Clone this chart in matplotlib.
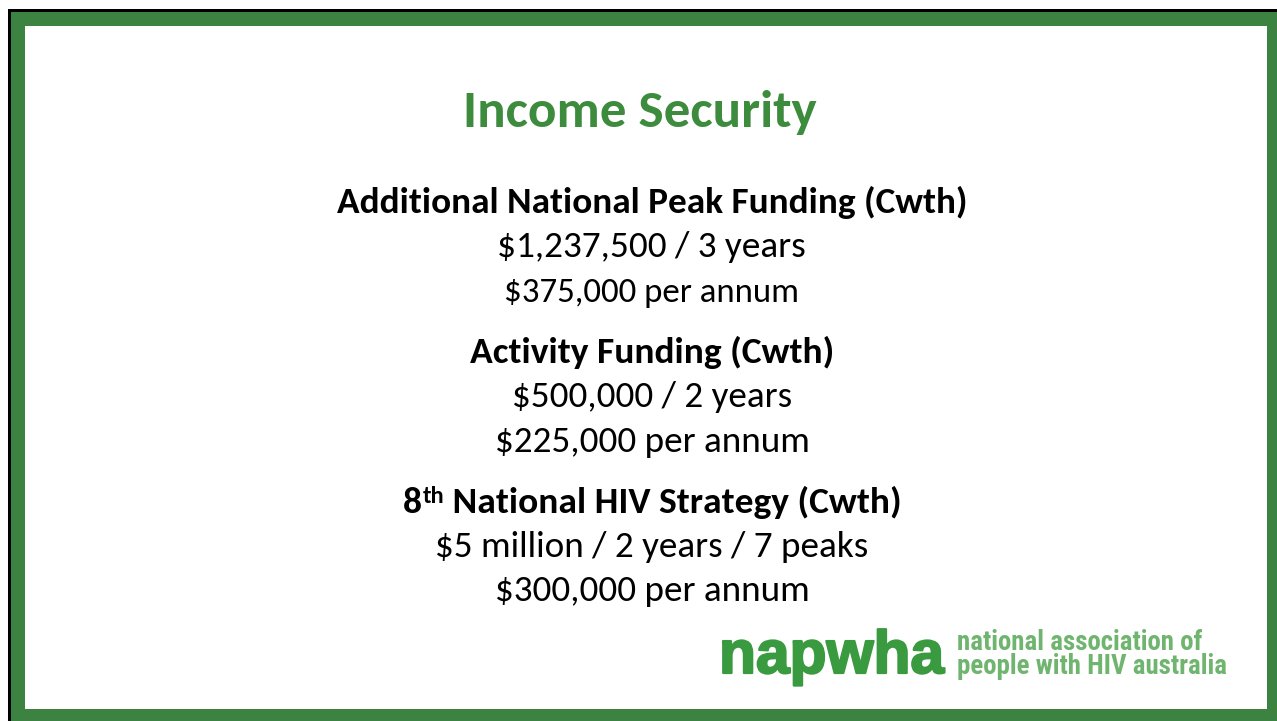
import matplotlib
matplotlib.use("Agg")
import matplotlib.pyplot as plt
import matplotlib.patheffects as pe
from matplotlib.patches import Rectangle

W, H = 1277, 721

title = "Income Security"
headings = ["Additional National Peak Funding (Cwth)",
            "Activity Funding (Cwth)",
            "National HIV Strategy (Cwth)"]
heading_prefix = ["", "", "8"]
heading_sup = ["", "", "th"]
details = [["$1,237,500 / 3 years", "$375,000 per annum"],
           ["$500,000 / 2 years", "$225,000 per annum"],
           ["$5 million / 2 years / 7 peaks", "$300,000 per annum"]]
logo_word = "napwha"
logo_lines = ["national association of", "people with HIV australia"]

BORDER = "#3C8240"
TITLE_C = "#3D8B3D"
LOGO_C = "#3A9A3F"
LOGO_C2 = "#6FB56F"

FAM = ["Carlito", "Lato", "DejaVu Sans"]
WORD_FAM = ["Liberation Sans", "DejaVu Sans"]
SUB_FAM = ["Roboto Condensed", "Liberation Sans", "DejaVu Sans"]

fig = plt.figure(figsize=(W / 100, H / 100), dpi=100)
ax = fig.add_axes([0, 0, 1, 1])
ax.set_xlim(0, W)
ax.set_ylim(H, 0)
ax.axis("off")

# frame
ax.add_patch(Rectangle((8, 9), W - 8, H - 9, facecolor="black", edgecolor="none"))
ax.add_patch(Rectangle((11, 12), W - 11, H - 12, facecolor=BORDER, edgecolor="none"))
ax.add_patch(Rectangle((25, 26), 1267 - 25, 709 - 26, facecolor="white", edgecolor="none"))

fig.canvas.draw()
renderer = fig.canvas.get_renderer()


def width_px(t):
    return t.get_window_extent(renderer).width


def fit_text(s, x, yb, target_w, family, weight="normal", color="black", ha="center"):
    t = ax.text(x, yb, s, fontsize=20, family=family, fontweight=weight,
                color=color, ha=ha, va="baseline")
    t.set_fontsize(20 * target_w / width_px(t))
    return t


fit_text(title, 640, 127, 354, FAM, "bold", TITLE_C)

head_y = [213, 363, 513]
head_w = [630, 364, 0]
detail_y = [[257, 302], [407, 452], [557, 601]]
detail_w = [[309, 296], [280, 315], [434, 315]]
detail_cx = [651, 652, 652]

fs_head = None
for i in range(3):
    if heading_prefix[i] == "":
        t = fit_text(headings[i], 652, head_y[i], head_w[i], FAM, "bold")
        fs_head = t.get_fontsize()
    for j in range(2):
        fit_text(details[i][j], detail_cx[i], detail_y[i][j], detail_w[i][j], FAM)

# heading with superscript, centered around x=652
i = 2
t1 = ax.text(0, head_y[i], heading_prefix[i], fontsize=fs_head, family=FAM,
             fontweight="bold", ha="left", va="baseline")
t2 = ax.text(0, head_y[i] - 10, heading_sup[i], fontsize=fs_head * 0.65, family=FAM,
             fontweight="bold", ha="left", va="baseline")
t3 = ax.text(0, head_y[i], " " + headings[i], fontsize=fs_head, family=FAM,
             fontweight="bold", ha="left", va="baseline")
w1, w2, w3 = width_px(t1), width_px(t2), width_px(t3)
x0 = 652 - (w1 + w2 + w3) / 2
t1.set_x(x0)
t2.set_x(x0 + w1 + 1)
t3.set_x(x0 + w1 + w2)

# logo word (slightly emboldened with a same-colour stroke)
t = ax.text(719, 673, logo_word, fontsize=40, family=WORD_FAM,
            fontweight="bold", color=LOGO_C, ha="left", va="baseline")
t.set_fontsize(40 * 225 / width_px(t))
t.set_path_effects([pe.withStroke(linewidth=1.6, foreground=LOGO_C)])

# logo subtitle as one two-line text, first baseline at y=650, line gap 22.5 px
t_one = ax.text(957, 650, logo_lines[1], fontsize=14, family=SUB_FAM,
                fontweight="bold", ha="left", va="baseline")
fs_sub = 14 * 271 / width_px(t_one)
t_one.set_fontsize(fs_sub)
base_disp = ax.transData.transform((0, 650))[1]
ascent = t_one.get_window_extent(renderer).y1 - base_disp
h1 = t_one.get_window_extent(renderer).height
t_one.set_text("\n".join(logo_lines))
t_one.set_linespacing(1.0)
h2 = t_one.get_window_extent(renderer).height
t_one.set_linespacing(22.5 / (h2 - h1))
t_one.set_color(LOGO_C2)
t_one.set_va("top")
t_one.set_y(650 - ascent)

fig.savefig("out.png", dpi=100)
